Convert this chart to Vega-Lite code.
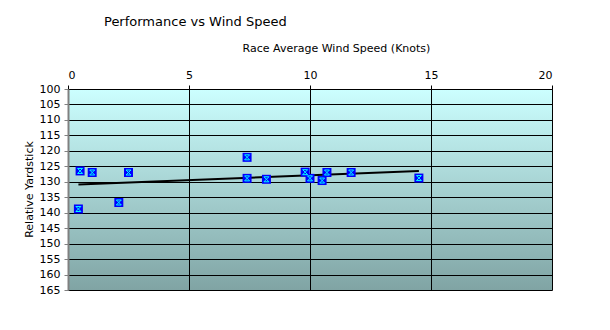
{
  "$schema": "https://vega.github.io/schema/vega-lite/v6.json",
  "width": 484,
  "height": 201,
  "autosize": "none",
  "padding": {"left": 68, "top": 89, "right": 58, "bottom": 40},
  "background": "white",
  "title": {
    "text": "Performance vs Wind Speed",
    "anchor": "start",
    "frame": "group",
    "dx": 36,
    "offset": 13,
    "fontSize": 13,
    "fontWeight": "normal",
    "font": "DejaVu Sans",
    "color": "black"
  },
  "data": {
    "values": [
      {"speed": 0.5, "yardstick": 126.5},
      {"speed": 1.0, "yardstick": 127.0},
      {"speed": 2.5, "yardstick": 127.0},
      {"speed": 2.1, "yardstick": 136.7},
      {"speed": 0.43, "yardstick": 138.8},
      {"speed": 7.4, "yardstick": 122.1},
      {"speed": 7.4, "yardstick": 128.9},
      {"speed": 8.2, "yardstick": 129.2},
      {"speed": 9.8, "yardstick": 126.9},
      {"speed": 10.0, "yardstick": 128.9},
      {"speed": 10.5, "yardstick": 129.6},
      {"speed": 10.7, "yardstick": 127.0},
      {"speed": 11.7, "yardstick": 127.0},
      {"speed": 14.5, "yardstick": 128.8}
    ]
  },
  "encoding": {
    "x": {
      "field": "speed",
      "type": "quantitative",
      "scale": {"domain": [0, 20], "nice": false, "zero": false},
      "axis": {
        "orient": "top",
        "values": [0, 5, 10, 15, 20],
        "grid": true,
        "gridColor": "black",
        "gridOpacity": 1,
        "gridWidth": 1,
        "domain": true,
        "domainColor": "black",
        "domainWidth": 1,
        "ticks": true,
        "tickColor": "black",
        "tickSize": 4,
        "labelPadding": 5,
        "labelFont": "DejaVu Sans",
        "labelFontSize": 11,
        "labelColor": "black",
        "title": "Race Average Wind Speed (Knots)",
        "titleFont": "DejaVu Sans",
        "titleFontSize": 11,
        "titleFontWeight": "normal",
        "titleColor": "black",
        "titleX": 268,
        "titleY": -41,
        "titleAlign": "center",
        "titleBaseline": "middle",
        "titleAnchor": null
      }
    },
    "y": {
      "field": "yardstick",
      "type": "quantitative",
      "scale": {"domain": [100, 165], "nice": false, "zero": false, "reverse": true},
      "axis": {
        "values": [100, 105, 110, 115, 120, 125, 130, 135, 140, 145, 150, 155, 160, 165],
        "grid": true,
        "gridColor": "black",
        "gridOpacity": 1,
        "gridWidth": 1,
        "domain": true,
        "domainColor": "#808080",
        "domainWidth": 2,
        "ticks": true,
        "tickColor": "#808080",
        "tickSize": 4,
        "labelPadding": 4,
        "labelFont": "DejaVu Sans",
        "labelFontSize": 11,
        "labelColor": "black",
        "title": "Relative Yardstick",
        "titleFont": "DejaVu Sans",
        "titleFontSize": 11,
        "titleFontWeight": "normal",
        "titleColor": "black",
        "titleX": -39,
        "titleY": 100,
        "titleAngle": -90,
        "titleAlign": "center",
        "titleBaseline": "middle"
      }
    }
  },
  "layer": [
    {
      "transform": [{"regression": "yardstick", "on": "speed"}],
      "mark": {"type": "line", "color": "black", "strokeWidth": 2}
    },
    {
      "mark": {"type": "point", "shape": "square", "filled": true, "size": 81, "color": "#0000ff", "opacity": 1}
    },
    {
      "mark": {"type": "point", "shape": "M-1,-1L1,1M1,-1L-1,1M-1,-1H1M-1,1H1", "filled": false, "stroke": "#00ffff", "strokeWidth": 1, "size": 25, "opacity": 1}
    }
  ],
  "config": {
    "view": {
      "stroke": null,
      "fill": {
        "gradient": "linear",
        "x1": 0, "y1": 0, "x2": 0, "y2": 1,
        "stops": [
          {"offset": 0, "color": "#ccffff"},
          {"offset": 1, "color": "#80a4a4"}
        ]
      }
    }
  }
}
